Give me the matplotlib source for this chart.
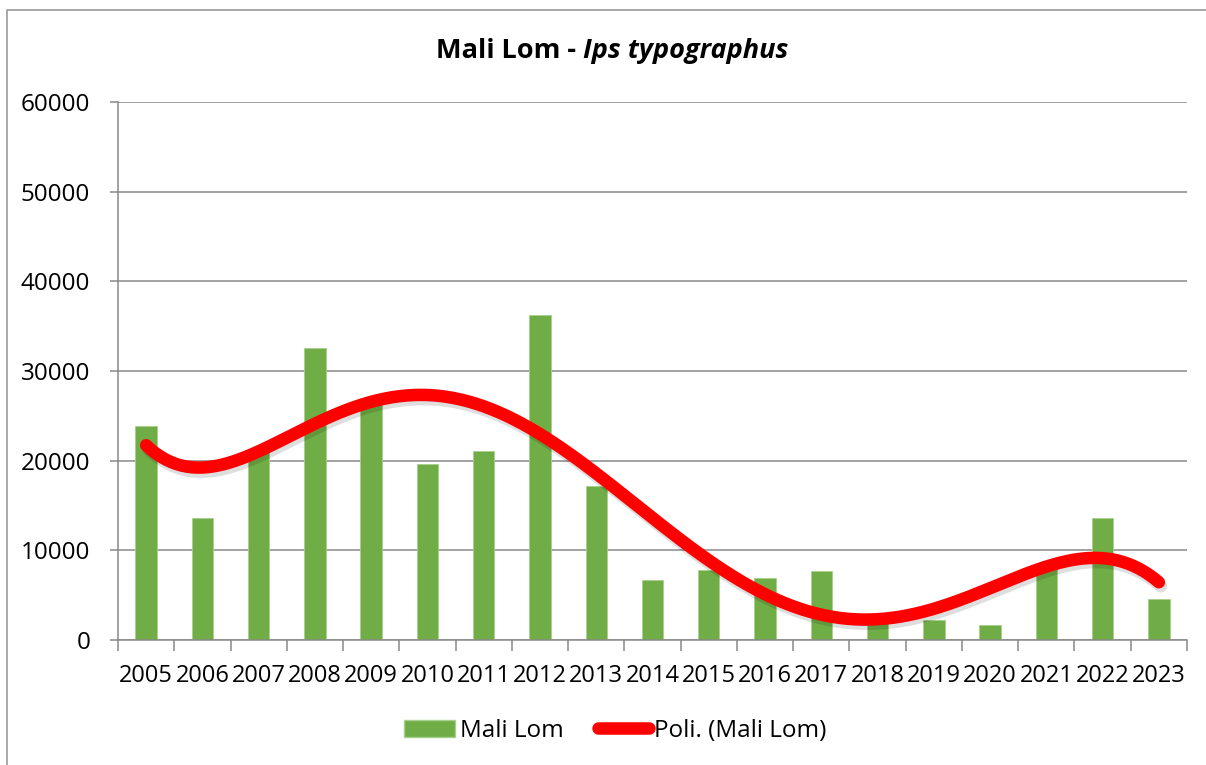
import matplotlib.pyplot as plt
import matplotlib.patheffects as pe
from matplotlib.patches import Patch
from matplotlib.lines import Line2D
import numpy as np

plt.rcParams['font.family'] = ['Open Sans', 'DejaVu Sans']

years = [2005, 2006, 2007, 2008, 2009, 2010, 2011, 2012, 2013, 2014,
         2015, 2016, 2017, 2018, 2019, 2020, 2021, 2022, 2023]
mali_lom = [23900, 13600, 21000, 32600, 26500, 19600, 21100, 36300, 17200, 6700,
            7850, 6900, 7750, 2300, 2200, 1700, 8000, 13600, 4600]
poly_order = 6

GREEN = '#70AD47'
GRID = '#898989'

fig = plt.figure(figsize=(12.06, 7.65), dpi=100)
ax = fig.add_axes([118 / 1206, 1 - 640 / 765, (1187 - 118) / 1206, (640 - 102) / 765])

x = np.arange(len(years))
ax.bar(x, mali_lom, width=0.38, color=GREEN, edgecolor='#A8D08D', linewidth=0.6, zorder=2)

# polynomial trendline, same as excel's "Poli." fit
coef = np.polyfit(x, mali_lom, poly_order)
xs = np.linspace(x[0], x[-1], 400)
ax.plot(xs, np.polyval(coef, xs), color='#FF0000', linewidth=9, solid_capstyle='round', zorder=3,
        path_effects=[pe.SimpleLineShadow(offset=(1.5, -3), shadow_color='#000000', alpha=0.13),
                      pe.Normal()])

ax.set_xlim(-0.5, len(years) - 0.5)
ax.set_ylim(0, 60000)
ax.set_yticks(range(0, 60001, 10000))
ax.yaxis.grid(True, color=GRID, linewidth=1.1, zorder=0)
ax.set_axisbelow(True)

ax.set_xticks(x)
ax.set_xticklabels([str(y) for y in years], fontsize=17)
ax.set_xticks(np.arange(-0.5, len(years), 1), minor=True)
ax.tick_params(axis='x', which='major', length=0, pad=17)
ax.tick_params(axis='x', which='minor', length=8, color=GRID, width=1.1)
ax.tick_params(axis='y', length=6, color=GRID, width=1.1, labelsize=17.5, pad=14)

for s in ['top', 'right']:
    ax.spines[s].set_visible(False)
for s in ['left', 'bottom']:
    ax.spines[s].set_color(GRID)
    ax.spines[s].set_linewidth(1.1)

# title with bold and bold italic parts
fig.canvas.draw()
r = fig.canvas.get_renderer()
t1 = fig.text(0, 0, 'Mali Lom - ', fontsize=19.5, fontweight='bold', va='baseline')
t2 = fig.text(0, 0, 'Ips typographus', fontsize=19.5, fontweight='bold', style='italic', va='baseline')
w1 = t1.get_window_extent(r).width
w2 = t2.get_window_extent(r).width
x0 = 612 - (w1 + w2) / 2
ybase = 1 - 58 / 765
t1.set_position((x0 / 1206, ybase))
t2.set_position(((x0 + w1) / 1206, ybase))

handles = [Patch(facecolor=GREEN, edgecolor='#A8D08D'),
           Line2D([0], [0], color='#FF0000', linewidth=9, solid_capstyle='round')]
fig.legend(handles, ['Mali Lom', 'Poli. (Mali Lom)'], loc='center', bbox_to_anchor=(615 / 1206, 1 - 731 / 765),
           ncol=2, frameon=False, fontsize=17.5, handlelength=2.1, handletextpad=0.2, columnspacing=1.4)

# chart area border, only top and left edges are in the picture
bx, by = 7 / 1206, 1 - 10 / 765
fig.add_artist(Line2D([bx, bx, 1.0], [0.0, by, by], transform=fig.transFigure,
                      color='#9a9a9a', linewidth=1.2))

fig.savefig('out.png', dpi=100)
